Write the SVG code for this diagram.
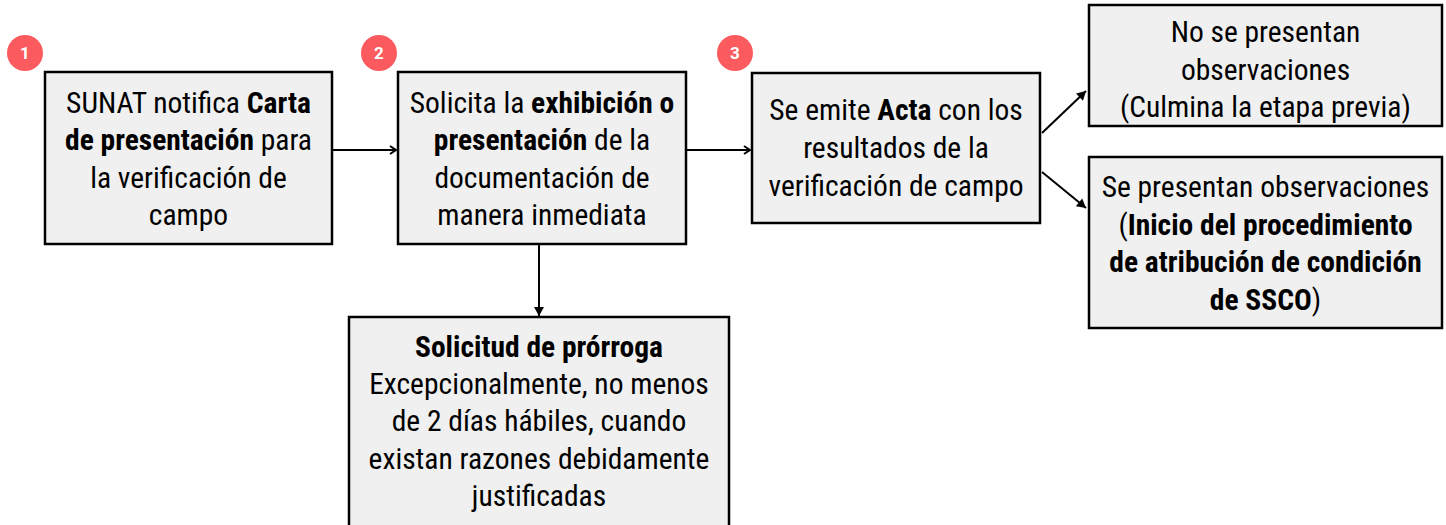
<svg xmlns="http://www.w3.org/2000/svg" width="1446" height="525" viewBox="0 0 1446 525">
<style>
.box{fill:#f0f0f0;stroke:#000;stroke-width:2.5}
.t{font-family:"Roboto Condensed","Liberation Sans Narrow","DejaVu Sans Condensed",sans-serif;font-size:29.5px;fill:#000;text-anchor:middle}
.b{font-weight:bold}
.badge{fill:#fb5a5e}
.bn{font-family:Roboto,"Liberation Sans",sans-serif;font-size:17px;font-weight:bold;fill:#fff;text-anchor:middle}
.c{stroke:#000;stroke-width:2;fill:none}
</style>
<defs>
<marker id="ah" markerWidth="10" markerHeight="10" refX="8" refY="5" orient="auto" markerUnits="userSpaceOnUse">
<path d="M2,1 L8,5 L2,9" fill="none" stroke="#000" stroke-width="2"/>
</marker>
<marker id="af" markerWidth="12" markerHeight="12" refX="10" refY="6" orient="auto" markerUnits="userSpaceOnUse">
<path d="M1,1 L10,6 L1,11 Z" fill="#000"/>
</marker>
</defs>
<g id="connectors">
<line class="c" x1="333" y1="150" x2="396" y2="150" marker-end="url(#ah)"/>
<line class="c" x1="687" y1="150" x2="750" y2="150" marker-end="url(#ah)"/>
<line class="c" x1="539" y1="245" x2="539" y2="316" marker-end="url(#af)"/>
<line class="c" x1="1042" y1="133" x2="1086" y2="91" marker-end="url(#af)"/>
<line class="c" x1="1042" y1="172" x2="1086" y2="208" marker-end="url(#af)"/>
</g>
<g id="badge1"><circle class="badge" cx="25" cy="53" r="18"/><text class="bn" x="25" y="59">1</text></g>
<g id="badge2"><circle class="badge" cx="379" cy="53" r="18"/><text class="bn" x="379" y="59">2</text></g>
<g id="badge3"><circle class="badge" cx="735" cy="53" r="18"/><text class="bn" x="735" y="59">3</text></g>
<g id="node1">
<rect class="box" x="45" y="72" width="287" height="172"/>
<text class="t" x="188.5" y="113">SUNAT notifica <tspan class="b">Carta</tspan></text>
<text class="t" x="188.5" y="150"><tspan class="b">de presentación</tspan> para</text>
<text class="t" x="188.5" y="188">la verificación de</text>
<text class="t" x="188.5" y="225">campo</text>
</g>
<g id="node2">
<rect class="box" x="398" y="72" width="288" height="172"/>
<text class="t" x="542" y="113">Solicita la <tspan class="b">exhibición o</tspan></text>
<text class="t" x="542" y="150"><tspan class="b">presentación</tspan> de la</text>
<text class="t" x="542" y="188">documentación de</text>
<text class="t" x="542" y="225">manera inmediata</text>
</g>
<g id="node3">
<rect class="box" x="752" y="73" width="288" height="150"/>
<text class="t" x="896" y="120">Se emite <tspan class="b">Acta</tspan> con los</text>
<text class="t" x="896" y="158">resultados de la</text>
<text class="t" x="896" y="196">verificación de campo</text>
</g>
<g id="node4">
<rect class="box" x="1089" y="5" width="353" height="121"/>
<text class="t" x="1265.5" y="42">No se presentan</text>
<text class="t" x="1265.5" y="80">observaciones</text>
<text class="t" x="1265.5" y="117">(Culmina la etapa previa)</text>
</g>
<g id="node5">
<rect class="box" x="1089" y="157" width="353" height="171"/>
<text class="t" x="1265.5" y="197">Se presentan observaciones</text>
<text class="t" x="1265.5" y="235">(<tspan class="b">Inicio del procedimiento</tspan></text>
<text class="t" x="1265.5" y="272"><tspan class="b">de atribución de condición</tspan></text>
<text class="t" x="1265.5" y="310"><tspan class="b">de SSCO</tspan>)</text>
</g>
<g id="node6">
<rect class="box" x="349" y="317" width="380" height="220"/>
<text class="t" x="539" y="357"><tspan class="b">Solicitud de prórroga</tspan></text>
<text class="t" x="539" y="394">Excepcionalmente, no menos</text>
<text class="t" x="539" y="431">de 2 días hábiles, cuando</text>
<text class="t" x="539" y="469">existan razones debidamente</text>
<text class="t" x="539" y="506">justificadas</text>
</g>
</svg>
